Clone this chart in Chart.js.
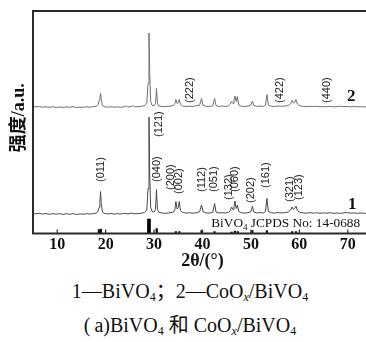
<!DOCTYPE html>
<html><head><meta charset="utf-8">
<script src="https://cdn.jsdelivr.net/npm/chart.js@4.4.0/dist/chart.umd.min.js"></script>
<style>
html,body{margin:0;padding:0;background:#fff;}
#wrap{position:relative;width:366px;height:342px;overflow:hidden;background:#fff;}
#c{position:absolute;left:0;top:0;}
.cap{position:absolute;left:0;width:380px;text-align:center;font-family:'Liberation Serif','Noto Sans CJK SC',serif;font-size:20px;line-height:20px;color:#111;white-space:nowrap;}
.cap sub{font-size:12px;vertical-align:-3px;line-height:0;}
</style></head><body>
<div id="wrap">
<canvas id="c" width="376" height="272"></canvas>
<div class="cap" style="top:281px">1—BiVO<sub>4</sub>；2—CoO<sub><i>x</i></sub>/BiVO<sub>4</sub></div>
<div class="cap" style="top:315px">(&thinsp;a)BiVO<sub>4</sub> 和 CoO<sub><i>x</i></sub>/BiVO<sub>4</sub></div>
</div>
<script>
const xTickValues = [10, 20, 30, 40, 50, 60, 70];

// curve 1: BiVO4 (2theta, intensity a.u.)
const bivo4Pattern = [[5.0,20.5],[5.6,19.6],[6.3,20.2],[7.0,19.4],[7.7,20.0],[8.4,19.2],[9.1,19.9],[9.8,19.3],[10.5,19.8],[11.2,19.1],[11.9,19.7],[12.6,19.2],[13.3,19.9],[14.0,19.0],[14.7,19.6],[15.4,19.3],[16.1,19.8],[16.8,19.4],[17.5,20.0],[18.1,20.3],[18.45,22.5],[18.65,26],[18.8,31],[18.95,42],[19.1,30],[19.35,21.5],[19.7,20.2],[20.4,19.6],[21.1,19.9],[21.8,19.4],[22.5,19.8],[23.2,19.5],[23.9,20.1],[24.6,19.6],[25.3,20.4],[26.0,19.7],[26.7,20.0],[27.4,20.3],[28.0,21.0],[28.5,23.5],[28.75,45],[28.95,116.5],[29.1,60],[29.3,26],[29.6,22],[30.0,21.5],[30.3,24],[30.5,44],[30.7,24],[31.0,21],[31.6,20.6],[32.2,20.2],[32.9,20.5],[33.5,20.8],[34.0,21.5],[34.3,24],[34.5,32],[34.75,24.5],[35.0,26],[35.2,32],[35.45,23],[35.9,21],[36.6,20.4],[37.3,20.8],[38.0,20.3],[38.7,20.7],[39.4,21.8],[39.8,28.5],[40.1,22],[40.7,20.6],[41.4,20.4],[42.1,21],[42.5,30],[42.8,21.4],[43.4,20.5],[44.1,20.8],[44.8,20.4],[45.4,21.2],[45.75,23],[46.0,26.5],[46.3,24],[46.5,27],[46.7,32.5],[46.95,25],[47.2,28.5],[47.5,22],[48.0,20.8],[48.7,20.4],[49.4,20.9],[50.0,21.8],[50.3,27],[50.6,21.5],[51.2,20.6],[51.9,20.9],[52.6,20.5],[53.0,22],[53.3,35],[53.6,22],[54.2,20.8],[54.9,20.4],[55.6,21.0],[56.3,20.6],[57.0,20.8],[57.7,21.5],[58.2,23.5],[58.5,26.5],[58.8,24],[59.0,25],[59.3,27.5],[59.6,23],[60.1,21.2],[60.8,20.6],[61.5,20.3],[62.2,20.8],[62.9,20.4],[63.6,20.7],[64.3,20.2],[65.0,20.6],[65.7,20.3],[66.4,20.8],[67.1,20.1],[67.8,20.5],[68.5,20.2],[69.2,20.7],[69.9,20.9],[70.6,20.3],[71.3,20.6],[72.0,20.2],[72.7,20.5],[73.4,20.1],[74.1,20.4],[75.0,20.2]];

// curve 2: CoOx/BiVO4 (2theta, intensity a.u., stacked)
const coBivo4Pattern = [[5.0,127.2],[5.6,126.6],[6.3,126.9],[7.0,126.3],[7.7,126.8],[8.4,126.2],[9.1,126.7],[9.8,126.0],[10.5,126.5],[11.2,126.1],[11.9,126.6],[12.6,126.2],[13.3,126.8],[14.0,126.0],[14.7,126.4],[15.4,126.2],[16.1,126.7],[16.8,126.3],[17.5,126.9],[18.1,127.3],[18.45,129],[18.65,133],[18.8,135],[18.95,140],[19.1,134],[19.35,128],[19.7,126.8],[20.4,126.4],[21.1,126.7],[21.8,126.3],[22.5,126.6],[23.2,126.2],[23.9,126.8],[24.3,127.6],[24.6,126.5],[25.3,126.9],[25.7,127.8],[26.0,126.6],[26.7,126.9],[27.4,127.2],[28.0,127.8],[28.5,130],[28.75,150],[28.95,200.5],[29.1,160],[29.3,132],[29.6,128],[30.0,127.8],[30.3,130],[30.5,145],[30.7,130],[31.0,127.5],[31.6,127],[32.2,126.8],[32.9,127.2],[33.5,127.4],[34.0,128],[34.3,130],[34.5,134],[34.75,130],[35.0,131],[35.2,134],[35.45,129],[35.9,127.4],[36.6,127],[37.3,127.3],[38.0,127],[38.5,127.6],[39.4,128.2],[39.8,135],[40.1,128.5],[40.7,127.2],[41.4,127],[42.1,127.6],[42.5,135],[42.8,127.8],[43.4,127.1],[44.1,127.4],[44.8,127],[45.4,127.8],[45.75,129.5],[46.0,132],[46.3,130],[46.5,134],[46.7,137.5],[46.95,132],[47.2,137],[47.5,128.5],[48.0,127.3],[48.7,127],[49.4,127.4],[50.0,128.5],[50.3,132.5],[50.6,128],[51.2,127.1],[51.9,127.4],[52.6,127],[53.0,128.5],[53.3,139],[53.6,128.5],[54.2,127.3],[54.9,127],[55.6,127.5],[56.3,127.2],[57.0,127.5],[57.7,128],[58.2,130],[58.5,133],[58.8,130.5],[59.0,131],[59.3,134],[59.6,129.5],[60.1,127.6],[60.8,127.1],[61.5,126.8],[62.2,127.2],[62.9,126.9],[63.6,127.1],[64.3,126.7],[65.0,127.0],[65.7,126.8],[66.4,127.2],[67.1,126.6],[67.8,126.9],[68.5,127.3],[69.2,126.8],[69.9,127.1],[70.6,126.7],[71.3,127.0],[72.0,126.6],[72.7,126.9],[73.4,126.5],[74.1,126.8],[75.0,126.6]];

// JCPDS 14-0688 reference sticks
const jcpdsTheta = [18.6, 19.0, 30.55, 34.5, 35.2, 39.8, 42.5, 46.0, 46.7, 47.3, 50.3, 53.3, 58.5, 59.3];
const jcpdsIntensity = [4, 4.5, 5, 2, 2, 3, 2, 1.5, 2.5, 2, 3, 3, 2, 2];
const jcpdsStrongTheta = [28.95];
const jcpdsStrongIntensity = [14.5];

// Miller index labels
const hkl1Names = ['(011)','(121)','(040)','(200)','(002)','(112)','(051)','(132)','(060)','(202)','(161)','(321)','(123)'];
const hkl1Theta = [19.0, 31.0, 30.7, 33.4, 35.2, 39.8, 42.3, 45.4, 46.8, 50.0, 53.2, 58.1, 59.9];
const hkl1Level = [51.5, 96.5, 51.5, 43.5, 39.5, 41.5, 41.5, 33.5, 41.5, 30.5, 45.5, 31.5, 33.5];
const hkl2Names = ['(222)','(422)','(440)'];
const hkl2Theta = [37.4, 56.0, 65.6];
const hkl2Level = [130.5, 130.5, 130.5];

const curveNames = ['1', '2'];
const curveNameTheta = [70.9, 70.7];
const curveNameLevel = [28.5, 136.5];

const jcpdsTextTheta = 41.8;
const jcpdsTextLevel = 6.5;

const serif = '"Liberation Serif", "Times New Roman", serif';

const annot = {
  id: 'annot',
  afterDatasetsDraw(chart) {
    const {ctx, chartArea: a} = chart;
    const x = chart.scales.x, y = chart.scales.y;
    ctx.save();
    ctx.fillStyle = '#222';
    ctx.font = '11px "Liberation Sans", Arial, sans-serif';
    ctx.textBaseline = 'middle';
    ctx.textAlign = 'left';
    const drawRot = (t, th, lv) => {
      const px = x.getPixelForValue(th), py = y.getPixelForValue(lv);
      ctx.save(); ctx.translate(px, py); ctx.rotate(-Math.PI / 2); ctx.fillText(t, 0, 0); ctx.restore();
    };
    hkl1Names.forEach((t, i) => drawRot(t, hkl1Theta[i], hkl1Level[i]));
    hkl2Names.forEach((t, i) => drawRot(t, hkl2Theta[i], hkl2Level[i]));
    ctx.font = 'bold 17px ' + serif;
    ctx.textAlign = 'center';
    ctx.fillStyle = '#111';
    curveNames.forEach((t, i) => ctx.fillText(t, x.getPixelForValue(curveNameTheta[i]), y.getPixelForValue(curveNameLevel[i])));
    ctx.textAlign = 'left';
    ctx.textBaseline = 'alphabetic';
    let px = x.getPixelForValue(jcpdsTextTheta), py = y.getPixelForValue(jcpdsTextLevel);
    ctx.font = '13.3px ' + serif;
    ctx.fillText('BiVO', px, py); px += ctx.measureText('BiVO').width;
    ctx.font = '9px ' + serif;
    ctx.fillText('4', px, py + 3); px += ctx.measureText('4').width;
    ctx.font = '13.3px ' + serif;
    ctx.fillText(' JCPDS No: 14-0688', px, py);
    ctx.strokeStyle = '#2a2a2a';
    ctx.lineWidth = 2;
    ctx.strokeRect(a.left, a.top, a.right - a.left, a.bottom - a.top);
    ctx.lineWidth = 1.2;
    xTickValues.forEach(v => {
      const tx = x.getPixelForValue(v);
      ctx.beginPath(); ctx.moveTo(tx, a.bottom); ctx.lineTo(tx, a.bottom - 4); ctx.stroke();
    });
    ctx.restore();
  }
};

new Chart(document.getElementById('c'), {
  type: 'scatter',
  data: {
    datasets: [
      {type: 'line', data: coBivo4Pattern.map(([t, v]) => ({x: t, y: v})), borderColor: '#707070', borderWidth: 1, pointRadius: 0, tension: 0},
      {type: 'line', data: bivo4Pattern.map(([t, v]) => ({x: t, y: v})), borderColor: '#4a4a4a', borderWidth: 1, pointRadius: 0, tension: 0},
      {type: 'bar', data: jcpdsTheta.map((t, i) => ({x: t, y: jcpdsIntensity[i]})), backgroundColor: '#111', barThickness: 1.6, grouped: false},
      {type: 'bar', data: jcpdsStrongTheta.map((t, i) => ({x: t, y: jcpdsStrongIntensity[i]})), backgroundColor: '#000', barThickness: 3, grouped: false}
    ]
  },
  options: {
    responsive: false,
    animation: false,
    devicePixelRatio: 1,
    layout: {padding: {top: 11, right: 4, left: 0, bottom: 0}},
    plugins: {legend: {display: false}, tooltip: {enabled: false}},
    scales: {
      x: {
        type: 'linear', min: 5, max: 75, offset: false,
        afterBuildTicks: s => { s.ticks = xTickValues.map(v => ({value: v})); },
        afterFit: s => { s.height = 38.5; },
        grid: {display: false, drawTicks: false, offset: false},
        border: {display: false},
        ticks: {padding: 2, color: '#111', maxRotation: 0, autoSkip: false, font: {family: serif, size: 16, weight: 'bold'}},
        title: {display: true, text: '2θ/(°)', color: '#111', font: {family: serif, size: 18, weight: 'bold'}, padding: {top: 0, bottom: 0}}
      },
      y: {
        type: 'linear', min: 0, max: 222.5,
        afterFit: s => { s.width = 33; },
        ticks: {display: false},
        grid: {display: false, drawTicks: false},
        border: {display: false},
        title: {display: true, text: '\u2002强度/a.u.', color: '#111', font: {family: '"Liberation Serif", "Noto Sans CJK SC", serif', size: 18, weight: 'bold'}, padding: {top: 9, bottom: 0}}
      }
    }
  },
  plugins: [annot]
});
</script>
</body></html>
